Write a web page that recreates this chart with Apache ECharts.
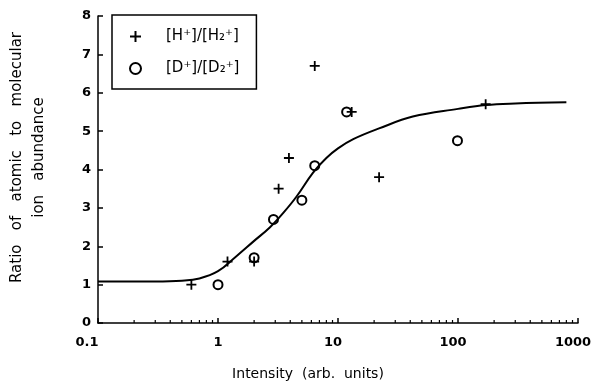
<!DOCTYPE html>
<html>
<head>
<meta charset="utf-8">
<script src="https://cdn.jsdelivr.net/npm/echarts@6/dist/echarts.min.js"></script>
<style>html,body{margin:0;padding:0;background:#fff}#c{width:600px;height:387px}</style>
</head>
<body>
<div id="c"></div>
<script>
// Data
const hPoints = [[0.6, 1.0], [1.2, 1.6], [2.0, 1.6], [3.2, 3.5], [3.9, 4.3], [6.4, 6.7], [13, 5.5], [22, 3.8], [170, 5.7]];
const dPoints = [[1.0, 1.0], [2.0, 1.7], [2.9, 2.7], [5.0, 3.2], [6.4, 4.1], [11.8, 5.5], [99, 4.75]];
const fitCurve = [[0.1, 1.08], [0.3, 1.08], [0.5, 1.10], [0.7, 1.16], [1.0, 1.35], [1.4, 1.72], [2.0, 2.14], [2.7, 2.49], [3.5, 2.87], [4.5, 3.29], [6.2, 3.92], [8, 4.30], [10, 4.55], [13.4, 4.79], [22, 5.07], [42, 5.38], [100, 5.58], [170, 5.68], [300, 5.72], [800, 5.75]];
const xTickLabels = {0.1: '{a|0.1}', 1: '{b|1}', 10: '{c|10}', 100: '{c|100}', 1000: '{c|1000}'};
const minorTicks = [2, 3, 4, 5, 6, 7, 8, 9].flatMap(m => [0.1, 1, 10, 100].map(d => [+(m * d).toPrecision(3), 0]));
const labelH = '[H⁺]/[H₂⁺]';
const labelD = '[D⁺]/[D₂⁺]';

const plusPath = 'path://M4.1,0h1.8v10h-1.8z M0,4.1h10v1.8h-10z';
const font = 'DejaVu Sans, Liberation Sans, sans-serif';
const tickFont = {fontFamily: font, fontSize: 13, fontWeight: 'bold', color: '#000'};

const chart = echarts.init(document.getElementById('c'));
chart.setOption({
  animation: false,
  backgroundColor: '#fff',
  grid: {left: 98, right: 22, top: 16, bottom: 64, outerBoundsMode: 'none', containLabel: false},
  legend: {
    left: 112, top: 15,
    orient: 'vertical',
    borderColor: '#000', borderWidth: 1.5,
    padding: [14, 17, 13, 17],
    itemWidth: 11, itemHeight: 11, itemGap: 17,
    textStyle: {fontFamily: font, fontSize: 15, color: '#000', padding: [0, 0, 0, 20]},
    data: [
      {name: labelH, icon: plusPath, itemStyle: {color: '#000'}},
      {name: labelD, icon: 'circle', itemStyle: {color: '#fff', borderColor: '#000', borderWidth: 2}}
    ]
  },
  xAxis: {
    type: 'log', logBase: 10, min: 0.1, max: 1000,
    name: 'Intensity  (arb.  units)', nameLocation: 'middle', nameGap: 44,
    nameTextStyle: {fontFamily: font, fontSize: 14, color: '#000', padding: [0, 60, 0, 0]},
    axisLine: {lineStyle: {color: '#000', width: 1.5}},
    axisTick: {inside: true, length: 5, lineStyle: {color: '#000', width: 1.5}},
    axisLabel: {margin: 13, ...tickFont,
      formatter: v => xTickLabels[+v.toPrecision(3)] || '',
      rich: {
        a: {...tickFont, padding: [0, 22, 0, 0]},
        b: {...tickFont},
        c: {...tickFont, padding: [0, 10, 0, 0]}
      }},
    splitLine: {show: false}
  },
  yAxis: {
    type: 'value', min: 0, max: 8, interval: 1,
    name: 'Ratio   of   atomic   to   molecular\nion   abundance', nameLocation: 'middle', nameGap: 48, nameRotate: 90,
    nameTextStyle: {fontFamily: font, fontSize: 15, color: '#000', lineHeight: 22, padding: [0, 0, 0, 24]},
    axisLine: {show: true, lineStyle: {color: '#000', width: 1.5}},
    axisTick: {show: true, inside: true, length: 5, lineStyle: {color: '#000', width: 1.5}},
    axisLabel: {margin: 7, ...tickFont},
    splitLine: {show: false}
  },
  series: [
    {
      type: 'line', data: fitCurve, smooth: 0.4, symbol: 'none', silent: true,
      lineStyle: {color: '#000', width: 2}
    },
    {
      name: labelH, type: 'scatter', data: hPoints, symbol: plusPath, symbolSize: 10,
      itemStyle: {color: '#000', opacity: 1}
    },
    {
      name: labelD, type: 'scatter', data: dPoints, symbol: 'circle', symbolSize: 9,
      itemStyle: {color: 'rgba(255,255,255,0)', borderColor: '#000', borderWidth: 2, opacity: 1}
    },
    {
      type: 'custom', data: minorTicks, silent: true, clip: false,
      renderItem: function (params, api) {
        const p = api.coord([api.value(0), 0]);
        return {type: 'line', shape: {x1: p[0], y1: p[1], x2: p[0], y2: p[1] - 3}, style: {stroke: '#000', lineWidth: 1.2}};
      }
    }
  ]
});
</script>
</body>
</html>
